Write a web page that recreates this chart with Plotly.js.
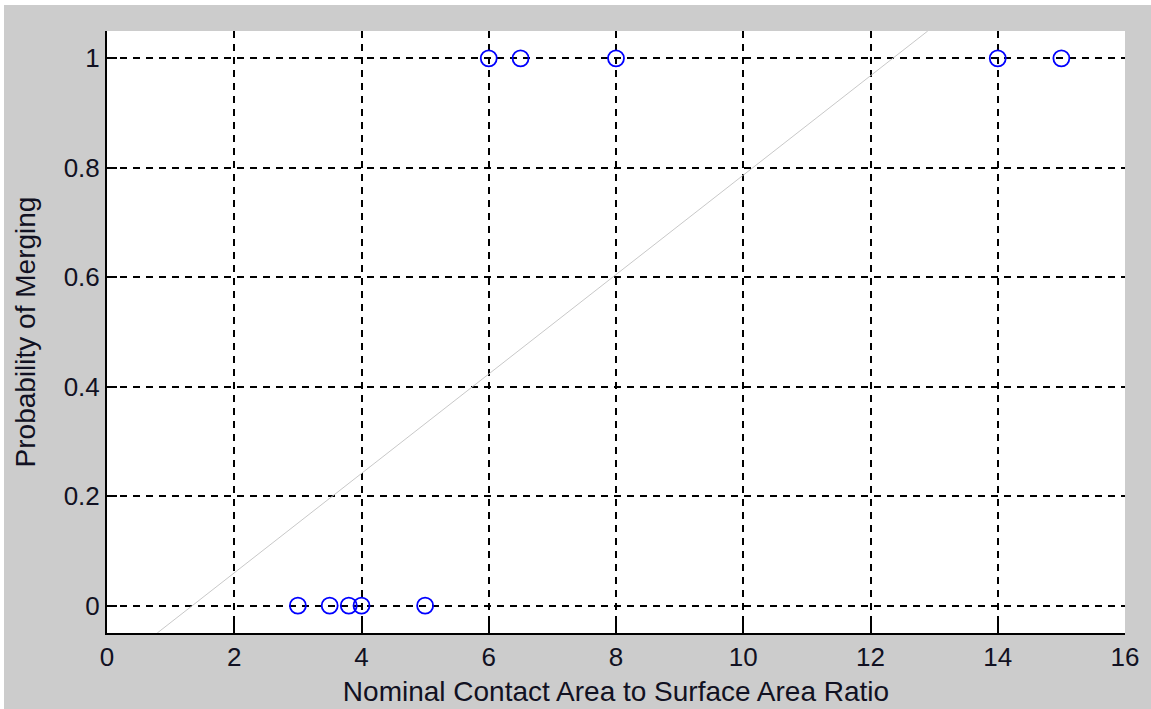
<!DOCTYPE html>
<html>
<head>
<meta charset="utf-8">
<script src="https://cdn.plot.ly/plotly-3.0.1.min.js"></script>
<style>
  html, body { margin: 0; padding: 0; background: #ffffff; }
  #chart { width: 1151px; height: 709px; }
</style>
</head>
<body>
<div id="chart"></div>
<script>
const ratio = [3, 3.5, 3.8, 4, 5, 6, 6.5, 8, 14, 15];
const merged = [0, 0, 0, 0, 0, 1, 1, 1, 1, 1];
// Fitted straight line, endpoints
const fitX = [0.79, 12.9];
const fitY = [-0.05, 1.05];
// Tick labels
const xTicks = [0, 2, 4, 6, 8, 10, 12, 14, 16];
const yTicks = [0, 0.2, 0.4, 0.6, 0.8, 1];

const L = 107, R = 1151 - 1125, T = 31, B = 709 - 633;
const plotW = 1151 - L - R, plotH = 709 - T - B;
const FONT = 'Liberation Sans, Arial, sans-serif';

const traces = [
  {
    x: fitX, y: fitY, type: 'scatter', mode: 'lines',
    line: { color: '#c8c8c8', width: 1 },
    hoverinfo: 'skip', showlegend: false
  },
  {
    x: ratio, y: merged, type: 'scatter', mode: 'markers',
    marker: { symbol: 'circle-open', size: 16, color: '#0000ff', line: { width: 1.8, color: '#0000ff' } },
    showlegend: false
  }
];

const axisCommon = {
  showline: true, linecolor: '#000000', linewidth: 2,
  ticks: 'inside', ticklen: 10, tickwidth: 2, tickcolor: '#000000',
  showgrid: true, gridcolor: '#000000', gridwidth: 2, griddash: '7px,6px',
  zeroline: false, mirror: false,
  tickfont: { family: FONT, size: 26, color: '#111122' }
};

const layout = {
  width: 1151, height: 709,
  margin: { l: L, r: R, t: T, b: B, pad: 0 },
  paper_bgcolor: '#cccccc',
  plot_bgcolor: '#ffffff',
  showlegend: false,
  xaxis: Object.assign({}, axisCommon, {
    range: [0, 16], autorange: false,
    tickmode: 'array', tickvals: xTicks, ticktext: xTicks.map(String),
    title: { text: 'Nominal Contact Area to Surface Area Ratio', standoff: 10,
             font: { family: FONT, size: 28, color: '#111122' } }
  }),
  yaxis: Object.assign({}, axisCommon, {
    range: [-0.05, 1.05], autorange: false,
    tickmode: 'array', tickvals: yTicks, ticktext: yTicks.map(String),
    title: { text: 'Probability of Merging', standoff: 20,
             font: { family: FONT, size: 28, color: '#111122' } }
  }),
  shapes: [
    // thin white frame strips at the top and left edges of the picture
    { type: 'rect', xref: 'paper', yref: 'paper', layer: 'above',
      x0: -L / plotW, x1: (1151 - L) / plotW,
      y0: (709 - B - 5) / plotH, y1: (709 - B) / plotH,
      fillcolor: '#ffffff', line: { width: 0 } },
    { type: 'rect', xref: 'paper', yref: 'paper', layer: 'above',
      x0: -L / plotW, x1: (4 - L) / plotW,
      y0: -B / plotH, y1: (709 - B) / plotH,
      fillcolor: '#ffffff', line: { width: 0 } }
  ]
};

Plotly.newPlot('chart', traces, layout, { displayModeBar: false, staticPlot: true });
</script>
</body>
</html>
